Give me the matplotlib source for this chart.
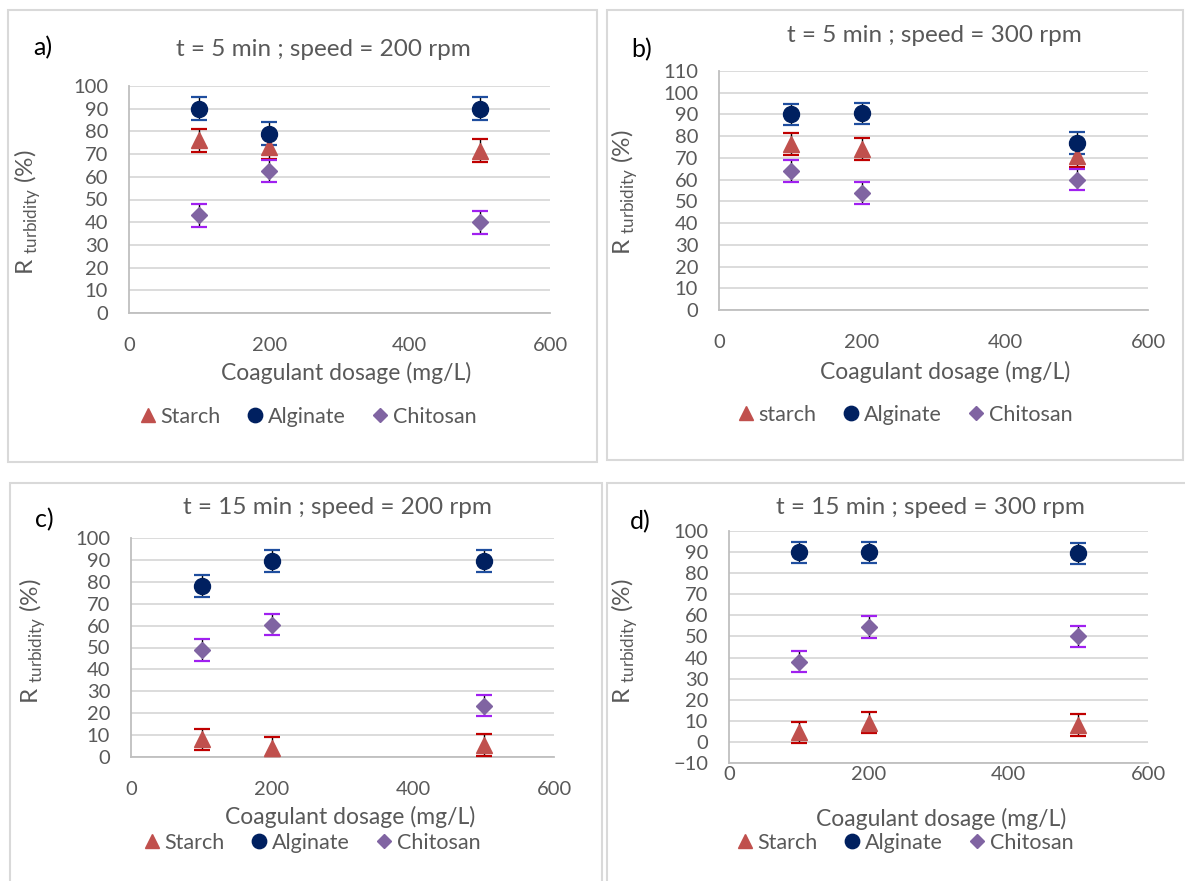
import matplotlib.pyplot as plt
from matplotlib.patches import Rectangle
from matplotlib.lines import Line2D

plt.rcParams['font.family'] = ['Lato', 'DejaVu Sans']
plt.rcParams['mathtext.fontset'] = 'custom'
plt.rcParams['mathtext.rm'] = 'Lato'

# dosage (mg/L)
dosage = [100, 200, 500]

# a) t = 5 min, 200 rpm
starch_a = [76, 73, 71.5]
alginate_a = [90, 79, 90]
chitosan_a = [43, 62.5, 40]
# b) t = 5 min, 300 rpm
starch_b = [76.5, 74, 71]
alginate_b = [90, 90.5, 77]
chitosan_b = [64, 54, 60]
# c) t = 15 min, 200 rpm
starch_c = [8, 4, 5.5]
alginate_c = [78, 89.5, 89.5]
chitosan_c = [49, 60.5, 23.5]
# d) t = 15 min, 300 rpm
starch_d = [4.5, 9, 8]
alginate_d = [90, 90, 89.5]
chitosan_d = [38, 54.5, 50]

err = 5

titles = ['t = 5 min ; speed = 200 rpm', 't = 5 min ; speed = 300 rpm',
          't = 15 min ; speed = 200 rpm', 't = 15 min ; speed = 300 rpm']
panel_labels = ['a)', 'b)', 'c)', 'd)']
starch_names = ['Starch', 'starch', 'Starch', 'Starch']
ylims = [(0, 100), (0, 110), (0, 100), (-10, 100)]

W, H = 1185, 881
fig = plt.figure(figsize=(W / 100, H / 100), dpi=100)

def fx(px):
    return px / W

def fy(py):
    return 1 - py / H

# axes boxes in pixels: left, top, right, bottom
boxes = [(129, 86, 550, 313), (719, 71, 1148, 310),
         (131, 538, 554, 757), (729, 531, 1148, 763)]
# panel borders in pixels
borders = [(8, 10, 597, 462), (607, 10, 1183, 460),
           (10, 483, 602, 890), (607, 483, 1190, 890)]
title_pos = [(323, 50), (934, 35), (337, 507), (930, 507)]
label_pos = [(43, 48), (642, 50), (44, 520), (640, 522)]
xlabel_pos = [(346, 373), (945, 372), (350, 817), (941, 819)]
legend_pos = [(308, 417), (905, 415), (312, 843), (905, 843)]
ylabel_pos = [(43, 212), (640, 192), (48, 641), (640, 641)]
xtick_pad = [17, 17, 17, 2]

data = [(starch_a, alginate_a, chitosan_a), (starch_b, alginate_b, chitosan_b),
        (starch_c, alginate_c, chitosan_c), (starch_d, alginate_d, chitosan_d)]

styles = [dict(marker='^', color='#C0504D', ms=11, ecap='#C00000'),
          dict(marker='o', color='#002060', ms=11.5, ecap='#1F4E9F'),
          dict(marker='D', color='#8064A2', ms=8, ecap='#A020F0')]

gray = '#595959'

for i in range(4):
    l, t, r, b = borders[i]
    fig.patches.append(Rectangle((fx(l), fy(b)), fx(r - l), (b - t) / H,
                                 transform=fig.transFigure, fill=False,
                                 edgecolor='#D9D9D9', lw=1.5))
    l, t, r, b = boxes[i]
    ax = fig.add_axes([fx(l), fy(b), fx(r - l), (b - t) / H])
    series = data[i]
    for vals, st in zip(series, styles):
        eb = ax.errorbar(dosage, vals, yerr=err, fmt=st['marker'], color=st['color'],
                         ms=st['ms'], ecolor='black', elinewidth=1, capsize=6,
                         capthick=1.6, zorder=3)
        for cap in eb[1]:
            cap.set_color(st['ecap'])
            cap.set_markeredgecolor(st['ecap'])
    ax.set_xlim(0, 600)
    ax.set_ylim(*ylims[i])
    ax.set_xticks([0, 200, 400, 600])
    ax.set_yticks(range(ylims[i][0], ylims[i][1] + 1, 10))
    ax.yaxis.grid(True, color='#D9D9D9', lw=1.3)
    ax.set_axisbelow(True)
    for s in ['top', 'right']:
        ax.spines[s].set_visible(False)
    for s in ['left', 'bottom']:
        ax.spines[s].set_color('#BFBFBF')
        ax.spines[s].set_linewidth(1.3)
    ax.tick_params(axis='both', length=0, labelsize=14.5, colors=gray)
    ax.tick_params(axis='y', pad=15)
    ax.tick_params(axis='x', pad=xtick_pad[i])

    ax.set_ylabel(r'R $_{\mathrm{turbidity}}$ (%)', fontsize=17.5, color=gray)
    yl_x, yl_y = ylabel_pos[i]
    ax.yaxis.set_label_coords((yl_x - l) / (r - l), (b - yl_y) / (b - t))

    fig.text(fx(title_pos[i][0]), fy(title_pos[i][1]), titles[i], ha='center',
             va='center', fontsize=17.5, color=gray)
    fig.text(fx(label_pos[i][0]), fy(label_pos[i][1]), panel_labels[i], ha='center',
             va='center', fontsize=18, color='black')
    fig.text(fx(xlabel_pos[i][0]), fy(xlabel_pos[i][1]), 'Coagulant dosage (mg/L)',
             ha='center', va='center', fontsize=16.5, color=gray)

    names = [starch_names[i], 'Alginate', 'Chitosan']
    handles = [Line2D([], [], ls='none', marker=st['marker'], color=st['color'],
                      ms=st['ms'] * 0.9) for st in styles]
    leg = ax.legend(handles, names, loc='center', ncol=3, frameon=False,
                    bbox_to_anchor=(fx(legend_pos[i][0]), fy(legend_pos[i][1])),
                    bbox_transform=fig.transFigure, fontsize=15.5,
                    handlelength=0.8, handletextpad=0.2, columnspacing=1.2)
    for txt in leg.get_texts():
        txt.set_color(gray)

fig.savefig('out.png', dpi=100)
